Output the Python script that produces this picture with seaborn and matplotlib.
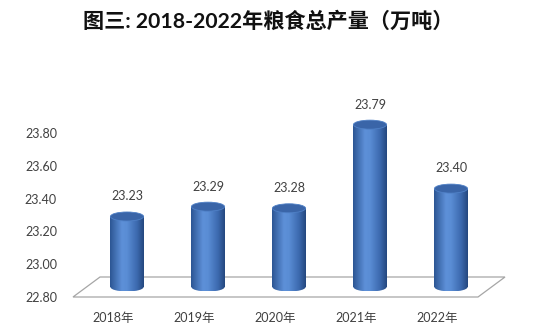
import numpy as np
import pandas as pd
import matplotlib
matplotlib.use("Agg")
import matplotlib.pyplot as plt
import seaborn as sns
from matplotlib.patches import Ellipse, Polygon
from matplotlib.transforms import ScaledTranslation
from matplotlib.colors import LinearSegmentedColormap

# ---- data ----
years = ["2018年", "2019年", "2020年", "2021年", "2022年"]
output = [23.23, 23.29, 23.28, 23.79, 23.40]
y_ticks = [22.80, 23.00, 23.20, 23.40, 23.60, 23.80]
title = "图三: 2018-2022年粮食总产量（万吨）"

BASE = 22.80

sns.set_style("white")
plt.rcParams['font.family'] = ['Lato', 'Noto Sans CJK SC', 'DejaVu Sans']

DPI = 100
fig = plt.figure(figsize=(5.39, 3.29), dpi=DPI, facecolor="white")
# axes: front floor edge from x=73..478 px, y=297 px, 164 px per 1.0 unit
ax = fig.add_axes([73 / 539, (329 - 297) / 329, 405 / 539, 1.2 * 164 / 329])

df = pd.DataFrame({"year": years, "value": output})
sns.barplot(data=df, x="year", y="value", color="#4a7cc4", width=0.41,
            ax=ax, zorder=2)

ax.set_ylim(BASE, BASE + 1.2)
ax.set_xlim(-0.5, 4.5)

# depth offsets (px)
depth_dx, depth_dy = 27, 20
half = ScaledTranslation(depth_dx / 2 / DPI, depth_dy / 2 / DPI, fig.dpi_scale_trans)
bar_trans = ax.transData + half

# floor parallelogram
ddx = depth_dx / 81.0
ddy = depth_dy / 164.0
floor = Polygon([(-0.5, BASE), (4.5, BASE), (4.5 + ddx, BASE + ddy), (-0.5 + ddx, BASE + ddy)],
                closed=True, facecolor="white", edgecolor="#a6a6a6", lw=0.9,
                clip_on=False, zorder=0.5)
ax.add_patch(floor)

cmap = LinearSegmentedColormap.from_list(
    "cyl", [(0.0, "#2c5593"), (0.35, "#5d90d8"), (0.5, "#5a8dd5"), (0.8, "#3c69ae"), (1.0, "#24477e")])
grad = np.linspace(0, 1, 256).reshape(1, -1)
eh = 9 / 164.0  # ellipse height in data units

for p, v in zip(ax.patches, output):
    x0 = p.get_x()
    w = p.get_width()
    p.set_y(BASE)
    p.set_height(v - BASE)
    p.set_transform(bar_trans)
    p.set_facecolor("none")
    p.set_edgecolor("none")
    p.set_clip_on(False)
    # body gradient
    im = ax.imshow(grad, extent=[x0, x0 + w, BASE, v], aspect="auto", cmap=cmap,
                   transform=bar_trans, zorder=2, interpolation="bilinear")
    im.set_clip_path(p)
    # bottom half ellipse
    be = Ellipse((x0 + w / 2, BASE), w, eh, transform=bar_trans,
                 facecolor="none", edgecolor="none", clip_on=False)
    ax.add_patch(be)
    im2 = ax.imshow(grad, extent=[x0, x0 + w, BASE - eh / 2, BASE + eh / 2], aspect="auto",
                    cmap=cmap, transform=bar_trans, zorder=2, interpolation="bilinear")
    im2.set_clip_path(be)
    # top ellipse
    te = Ellipse((x0 + w / 2, v), w, eh, transform=bar_trans,
                 facecolor="#3a65a8", edgecolor="#4f80c6", lw=0.6, zorder=3, clip_on=False)
    ax.add_patch(te)
    # data label
    ax.annotate(f"{v:.2f}", xy=(x0 + w / 2, v), xycoords=bar_trans,
                xytext=(0, 14.5), textcoords="offset points", ha="center", va="center",
                fontsize=9, color="#404040", annotation_clip=False)

ax.set_xlim(-0.5, 4.5)
ax.set_ylim(BASE, BASE + 1.2)

for s in ax.spines.values():
    s.set_visible(False)

ax.set_yticks(y_ticks)
ax.set_yticklabels([f"{t:.2f}" for t in y_ticks])
ax.tick_params(axis="y", length=0, pad=11.5, labelsize=9, labelcolor="#404040")

ax.set_xticks(range(len(years)))
ax.set_xticklabels(years)
ax.set_xticks(np.arange(-0.5, 5.0, 1.0), minor=True)
ax.tick_params(axis="x", which="major", length=0, pad=11, labelsize=9, labelcolor="#404040")
ax.tick_params(axis="x", which="minor", length=3.5, width=0.8, color="#a6a6a6", direction="out")
ax.set_xlabel("")
ax.set_ylabel("")

fig.text(268 / 539, 1 - 22 / 329, title, ha="center", va="center", fontsize=15.2,
         fontweight="bold", color="#111111")

fig.savefig("out.png", dpi=DPI, facecolor="white")
